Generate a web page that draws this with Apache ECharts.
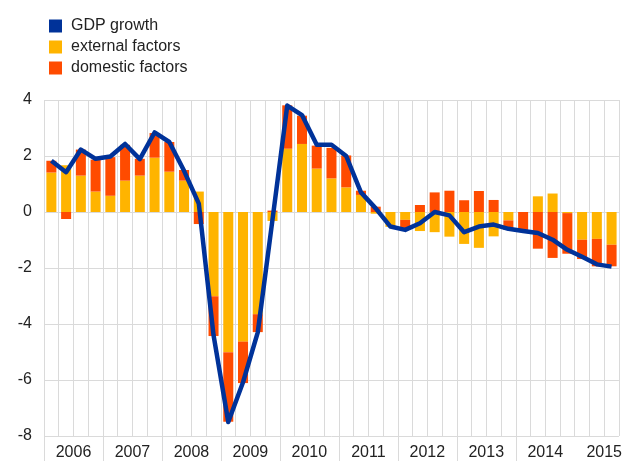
<!DOCTYPE html>
<html>
<head>
<meta charset="utf-8">
<script src="https://cdn.jsdelivr.net/npm/echarts@6/dist/echarts.min.js"></script>
<style>
  html, body { margin: 0; padding: 0; background: #fff; }
  #chart { width: 625px; height: 461px; }
</style>
</head>
<body>
<div id="chart"></div>
<script>
// quarters 2006 Q1 .. 2015 Q3
const quarters = []
for (let y = 2006; y <= 2015; y++) {
  for (let q = 1; q <= 4; q++) {
    if (y === 2015 && q === 4) break
    quarters.push(y + 'Q' + q)
  }
}
const years = ['2006', '2007', '2008', '2009', '2010', '2011', '2012', '2013', '2014', '2015']
const yTicks = [-8, -6, -4, -2, 0, 2, 4]

const gdpGrowth = [1.83, 1.42, 2.23, 1.9, 1.98, 2.43, 1.89, 2.84, 2.5, 1.47,
  0.3, -4.4, -7.5, -6.08, -4.3, -0.27, 3.8, 3.46, 2.4, 2.4,
  2.0, 0.7, 0.13, -0.52, -0.64, -0.4, 0.0, -0.12, -0.72, -0.52,
  -0.45, -0.6, -0.68, -0.75, -0.99, -1.35, -1.6, -1.87, -1.95]

const externalFactors = [1.41, 1.67, 1.3, 0.73, 0.58, 1.12, 1.3, 1.94, 1.44, 1.12,
  0.73, -3.01, -5.01, -4.63, -3.65, -0.32, 2.26, 2.43, 1.55, 1.2,
  0.88, 0.61, -0.06, -0.53, -0.28, -0.68, -0.72, -0.88, -1.14, -1.28,
  -0.87, -0.3, 0, 0.56, 0.66, -0.04, -0.99, -0.96, -1.17]

const domesticFactors = [0.42, -0.25, 0.93, 1.14, 1.38, 1.28, 0.6, 0.88, 1.06, 0.38,
  -0.43, -1.42, -2.48, -1.48, -0.64, 0.05, 1.55, 1.01, 0.82, 1.09,
  1.14, 0.15, 0.19, 0, -0.32, 0.25, 0.7, 0.76, 0.42, 0.75,
  0.43, -0.34, -0.64, -1.31, -1.64, -1.45, -0.69, -0.98, -0.77]

const textColor = '#222'
const gridColor = '#dadada'
const font = 'Arial, "Liberation Sans", sans-serif'

// year label in the middle of each year, ticks on the year borders
const yearLabelPos = years.map((y, i) => i * 4 + 1.5)
const yearTickPos = years.slice(0, 9).map((y, i) => i * 4 - 0.5)

const myChart = echarts.init(document.getElementById('chart'))
myChart.setOption({
  animation: false,
  legend: {
    data: ['GDP growth', 'external factors', 'domestic factors'],
    orient: 'vertical',
    left: 44,
    top: 13,
    icon: 'rect',
    itemWidth: 13,
    itemHeight: 13,
    itemGap: 5,
    textStyle: {
      color: textColor,
      fontSize: 16,
      fontFamily: font,
      padding: [0, 0, 0, 4]
    }
  },
  grid: {
    left: 44,
    right: 4,
    top: 100,
    bottom: 24,
    containLabel: false
  },
  xAxis: [{
    type: 'category',
    data: quarters,
    boundaryGap: true,
    axisLine: { show: false },
    axisTick: { show: false },
    axisLabel: { show: false },
    splitLine: {
      show: true,
      interval: 0,
      lineStyle: { color: gridColor, width: 1 }
    }
  }, {
    type: 'value',
    position: 'bottom',
    min: -0.5,
    max: quarters.length - 0.5,
    axisLine: { show: false },
    splitLine: { show: false },
    axisTick: {
      show: true,
      customValues: yearTickPos,
      length: 26,
      lineStyle: { color: gridColor, width: 1 }
    },
    axisLabel: {
      customValues: yearLabelPos,
      formatter: function (v) {
        return years[Math.round((v - 1.5) / 4)]
      },
      color: textColor,
      fontSize: 16,
      fontFamily: font,
      margin: 9
    }
  }],
  yAxis: {
    type: 'value',
    min: yTicks[0],
    max: yTicks[yTicks.length - 1],
    interval: 2,
    axisLine: { show: false },
    axisTick: { show: false },
    axisLabel: {
      color: textColor,
      fontSize: 16,
      fontFamily: font,
      margin: 12
    },
    splitLine: {
      lineStyle: { color: gridColor, width: 1 }
    }
  },
  series: [{
    name: 'external factors',
    type: 'bar',
    stack: 'total',
    barCategoryGap: '32%',
    itemStyle: { color: '#FFB400' },
    data: externalFactors
  }, {
    name: 'domestic factors',
    type: 'bar',
    stack: 'total',
    barCategoryGap: '32%',
    itemStyle: { color: '#FF4B00' },
    data: domesticFactors
  }, {
    name: 'GDP growth',
    type: 'line',
    symbol: 'none',
    z: 5,
    itemStyle: { color: '#003299' },
    lineStyle: { width: 4.5, color: '#003299', join: 'round' },
    data: gdpGrowth
  }]
})
</script>
</body>
</html>
